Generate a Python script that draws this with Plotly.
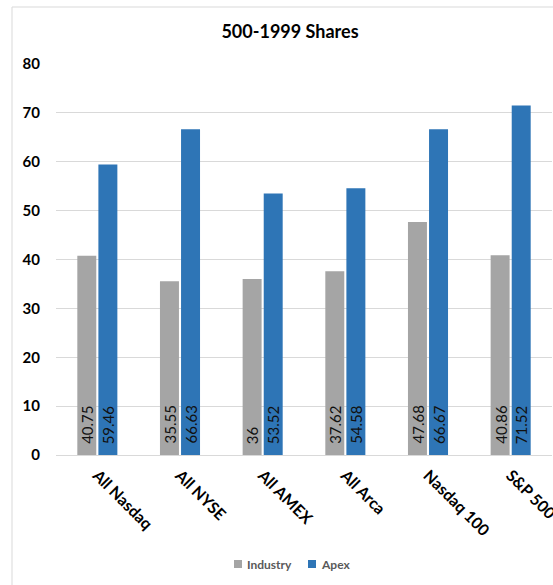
import plotly.graph_objects as go

categories = ["All Nasdaq", "All NYSE", "All AMEX", "All Arca", "Nasdaq 100", "S&P 500"]
industry = [40.75, 35.55, 36, 37.62, 47.68, 40.86]
apex = [59.46, 66.63, 53.52, 54.58, 66.67, 71.52]
series_names = ["Industry", "Apex"]
series_colors = ["#A5A5A5", "#2E75B6"]
y_ticks = [0, 10, 20, 30, 40, 50, 60, 70, 80]
title_text = "500-1999 Shares"

FONT = "Lato, Carlito, 'Open Sans', sans-serif"

W, H = 553, 585
L, R, T, B = 56, 1, 64, 130
pw = W - L - R
ph = H - T - B

def px_x(x):
    return (x - L) / pw

def px_y(y):
    return (ph + T - y) / ph

fig = go.Figure()
for name, vals, col in zip(series_names, [industry, apex], series_colors):
    fig.add_trace(go.Bar(
        name=name, x=categories, y=vals,
        marker=dict(color=col, line=dict(width=0)),
        hoverinfo="x+y", showlegend=False,
    ))

# data labels: rotated, at the base of each bar
for si, vals in enumerate([industry, apex]):
    shift = -10.5 if si == 0 else 10.5
    for c, v in zip(categories, vals):
        fig.add_annotation(
            x=c, y=0, xref="x", yref="y",
            text=f"{v:g}", showarrow=False, textangle=-90,
            xshift=shift, yshift=9, yanchor="bottom", xanchor="center",
            font=dict(family=FONT, size=15, color="#111111"),
        )

# legend (swatch + label per series)
legend_x = [234, 308]
legend_y = 564
for name, col, lx in zip(series_names, series_colors, legend_x):
    fig.add_shape(type="rect", xref="paper", yref="paper",
                  x0=px_x(lx), x1=px_x(lx + 8), y0=px_y(legend_y + 4), y1=px_y(legend_y - 4),
                  fillcolor=col, line=dict(width=0))
    fig.add_annotation(x=px_x(lx + 11), y=px_y(legend_y), xref="paper", yref="paper",
                       text=name, showarrow=False, xanchor="left", yanchor="middle",
                       font=dict(family=FONT, size=12, color="#595959", weight="bold"))

# chart frame
fig.add_shape(
    type="rect", xref="paper", yref="paper",
    x0=px_x(12), x1=1.2, y0=-0.6, y1=px_y(7),
    line=dict(color="#D9D9D9", width=1), fillcolor="rgba(0,0,0,0)", layer="below",
)

fig.update_layout(
    width=W, height=H,
    margin=dict(l=L, r=R, t=T, b=B, autoexpand=False),
    paper_bgcolor="white", plot_bgcolor="white",
    barmode="group", bargap=0.49, bargroupgap=0.1,
    title=dict(text=title_text, x=px_x(290), xref="paper",
               y=1 - 32 / H, yref="container", xanchor="center", yanchor="middle",
               font=dict(family=FONT, size=18, color="#000000", weight="bold")),
    font=dict(family=FONT, color="#000000"),
    showlegend=False,
    xaxis=dict(
        tickangle=45, tickfont=dict(family=FONT, size=16, color="#000000", weight="bold"),
        showgrid=False, showline=False, ticks="", ticklabelstandoff=7, automargin=False,
    ),
    yaxis=dict(
        range=[0, 80], tickvals=y_ticks, showgrid=True, gridcolor="#D9D9D9", gridwidth=1,
        zeroline=True, zerolinecolor="#D9D9D9", zerolinewidth=1,
        tickfont=dict(family=FONT, size=15, color="#000000", weight="bold"),
        ticks="", ticklabelstandoff=15, showline=False, automargin=False,
    ),
)

fig.write_html("out.html", config={"displayModeBar": False},
               post_script="document.body.style.margin='0px';document.body.style.padding='0px';")
